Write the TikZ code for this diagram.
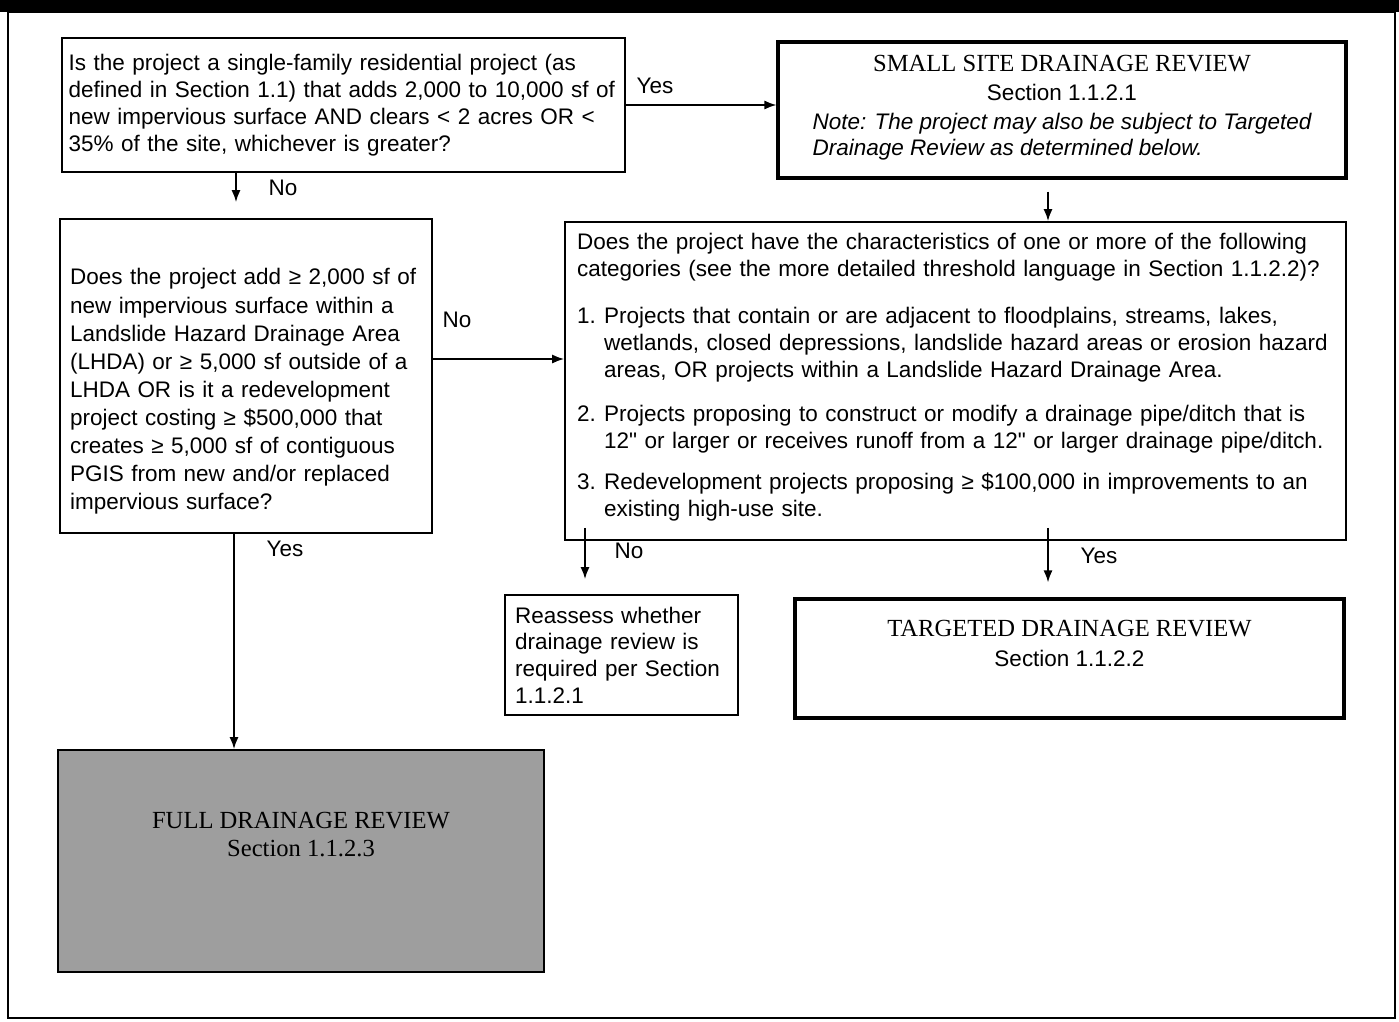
\documentclass[tikz,border=0pt]{standalone}
\usepackage{fontspec}
\setmainfont{Liberation Sans}[Ligatures=TeXOff]
\newfontfamily\timesfont{Liberation Serif}
\usetikzlibrary{arrows.meta, positioning, calc}

\begin{document}
\begin{tikzpicture}[x=0.02cm, y=-0.02cm, >={Latex[length=2.4mm,width=1.8mm]}, font=\fontsize{12.8}{15.3}\selectfont,
  box/.style={draw, line width=1pt, align=left, inner xsep=0.2cm, inner ysep=0pt},
  bigbox/.style={draw, line width=1.8pt, align=center, inner sep=0pt},
  lbl/.style={inner sep=0pt},
  flow/.style={->, line width=1pt}]
\useasboundingbox (0,0) rectangle (1399,1021);
% page frame
\fill (0,0) rectangle (1399,12);
\draw[line width=0.04cm] (8,12) rectangle (1395,1018);

\node[box, inner xsep=0.13cm, text width=11cm, minimum height=2.68cm] (single) at (343.5,105) {Is the project a single-family residential project (as\\defined in Section 1.1) that adds 2,000 to 10,000 sf of\\new impervious surface AND clears < 2 acres OR <\\35\% of the site, whichever is greater?};
\node[bigbox, minimum width=11.36cm, minimum height=2.72cm, font=\fontsize{12.8}{16.5}\selectfont] (small) at (1062,110) {{\timesfont\fontsize{14}{16.5}\selectfont SMALL SITE DRAINAGE REVIEW}\\Section 1.1.2.1\\{\itshape\begin{tabular}[t]{@{}l@{}}Note: The project may also be subject to Targeted\\[-1.5pt]Drainage Review as determined below.\end{tabular}}};
\node[box, text width=7.04cm, minimum height=6.28cm, font=\fontsize{12.8}{16}\selectfont] (lhda) at (246,376) {\rule{0pt}{0.95cm}Does the project add ≥ 2,000 sf of\\new impervious surface within a\\Landslide Hazard Drainage Area\\(LHDA) or ≥ 5,000 sf outside of a\\LHDA OR is it a redevelopment\\project costing ≥ \$500,000 that\\creates ≥ 5,000 sf of contiguous\\PGIS from new and/or replaced\\impervious surface?};
\node[box, inner xsep=0.24cm, text width=15.14cm, minimum height=6.36cm] (categ) at (955.5,381) {Does the project have the characteristics of one or more of the following\\categories (see the more detailed threshold language in Section 1.1.2.2)?\\[0.4cm]
\makebox[0.54cm][l]{1.}Projects that contain or are adjacent to floodplains, streams, lakes,\\
\hspace*{0.54cm}wetlands, closed depressions, landslide hazard areas or erosion hazard\\
\hspace*{0.54cm}areas, OR projects within a Landslide Hazard Drainage Area.\\[0.34cm]
\makebox[0.54cm][l]{2.}Projects proposing to construct or modify a drainage pipe/ditch that is\\
\hspace*{0.54cm}12" or larger or receives runoff from a 12" or larger drainage pipe/ditch.\\[0.29cm]
\makebox[0.54cm][l]{3.}Redevelopment projects proposing ≥ \$100,000 in improvements to an\\
\hspace*{0.54cm}existing high-use site.\rule[-0.24cm]{0pt}{0pt}};
\node[box, text width=4.26cm, minimum height=2.4cm, font=\fontsize{12.8}{15.2}\selectfont] (reassess) at (621.5,655) {Reassess whether\\drainage review is\\required per Section\\1.1.2.1};
\node[bigbox, minimum width=10.98cm, minimum height=2.38cm, font=\fontsize{12.8}{17}\selectfont] (targeted) at (1069.5,658.5) {{\timesfont\fontsize{14}{17}\selectfont TARGETED DRAINAGE REVIEW}\\Section 1.1.2.2\rule[-0.62cm]{0pt}{0pt}};
\node[draw, line width=1pt, fill=black!38, align=center, minimum width=9.72cm, minimum height=4.44cm, font=\timesfont\fontsize{14}{16}\selectfont] (full) at (301,861) {FULL DRAINAGE REVIEW\\Section 1.1.2.3\rule[-1.06cm]{0pt}{0pt}};

% connector positions
\coordinate (xa) at (236,0);
\coordinate (xb) at (1048,0);
\coordinate (xc) at (234,0);
\coordinate (xd) at (585,0);
\coordinate (ya) at (0,359);

\draw[flow] (single.east) -- (single.east -| small.west);
\draw[flow, shorten >=0.32cm] (single.south -| xa) -- (lhda.north -| xa);
\draw[flow, shorten <=0.24cm] (small.south -| xb) -- (categ.north -| xb);
\draw[flow] (lhda.east |- ya) -- (categ.west |- ya);
\draw[flow] (lhda.south -| xc) -- (full.north -| xc);
\draw[flow, shorten <=-0.26cm, shorten >=0.3cm] (categ.south -| xd) -- (reassess.north -| xd);
\draw[flow, shorten <=-0.26cm, shorten >=0.3cm] (categ.south -| xb) -- (targeted.north -| xb);

\node[lbl] (yesa) at (655,86) {Yes};
\node[lbl] (noa) at (283,188) {No};
\node[lbl] (nob) at (457,320) {No};
\node[lbl] (yesb) at (285,549) {Yes};
\node[lbl] (noc) at (629,551) {No};
\node[lbl] (yesc) at (1099,556) {Yes};
\end{tikzpicture}
\end{document}
